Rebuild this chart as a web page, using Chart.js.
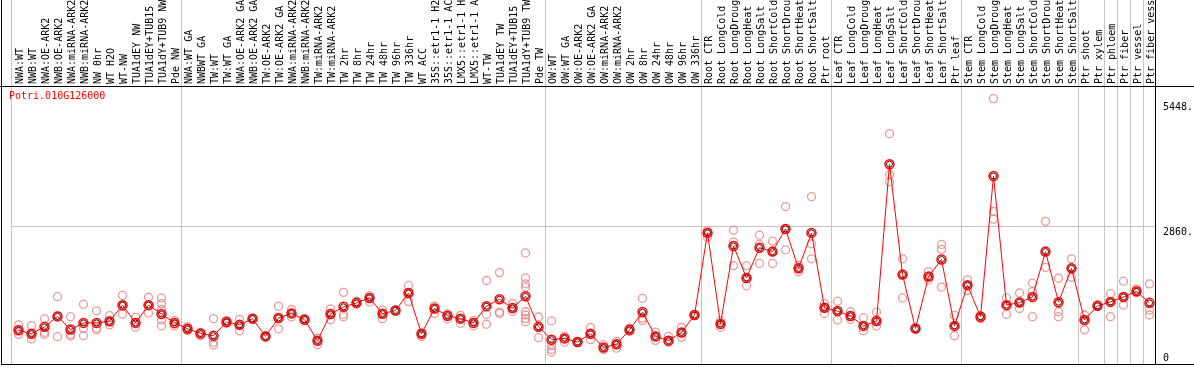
<!DOCTYPE html>
<html>
<head>
<meta charset="utf-8">
<script src="https://cdn.jsdelivr.net/npm/chart.js@4.4.1/dist/chart.umd.min.js"></script>
<style>
  html, body { margin: 0; padding: 0; background: #fff; }
  canvas { display: block; }
</style>
</head>
<body>
<canvas id="expr" width="1194" height="370"></canvas>
<script>
const geneName = "Potri.010G126000";

const labels = [
  "NWA:WT", "NWB:WT", "NWA:OE-ARK2", "NWB:OE-ARK2", "NWA:miRNA-ARK2", "NWB:miRNA-ARK2", "NW 0hr", "WT H2O",
  "WT-NW", "TUA1dEY NW", "TUA1dEY+TUB15 NW", "TUA1dY+TUB9 NW", "Pde NW",
  "NWA:WT GA", "NWBWT GA", "TW:WT", "TW:WT GA", "NWA:OE-ARK2 GA", "NWB:OE-ARK2 GA", "TW:OE-ARK2", "TW:OE-ARK2 GA",
  "NWA:miRNA-ARK2", "NWB:miRNA-ARK2", "TW:miRNA-ARK2", "TW:miRNA-ARK2", "TW 2hr", "TW 8hr", "TW 24hr", "TW 48hr",
  "TW 96hr", "TW 336hr", "WT ACC", "35S::etr1-1 H2O", "35S::etr1-1 ACC", "LMX5::etr1-1 H2O", "LMX5::etr1-1 ACC",
  "WT-TW", "TUA1dEY TW", "TUA1dEY+TUB15 TW", "TUA1dY+TUB9 TW", "Pde TW",
  "OW:WT", "OW:WT GA", "OW:OE-ARK2", "OW:OE-ARK2 GA", "OW:miRNA-ARK2", "OW:miRNA-ARK2", "OW 2hr", "OW 8hr",
  "OW 24hr", "OW 48hr", "OW 96hr", "OW 336hr",
  "Root CTR", "Root LongCold", "Root LongDrought", "Root LongHeat", "Root LongSalt", "Root ShortCold",
  "Root ShortDrought", "Root ShortHeat", "Root ShortSalt", "Ptr root",
  "Leaf CTR", "Leaf LongCold", "Leaf LongDrought", "Leaf LongHeat", "Leaf LongSalt", "Leaf ShortCold",
  "Leaf ShortDrought", "Leaf ShortHeat", "Leaf ShortSalt", "Ptr leaf",
  "Stem CTR", "Stem LongCold", "Stem LongDrought", "Stem LongHeat", "Stem LongSalt", "Stem ShortCold",
  "Stem ShortDrought", "Stem ShortHeat", "Stem ShortSalt",
  "Ptr shoot", "Ptr xylem", "Ptr phloem", "Ptr fiber", "Ptr vessel", "Ptr fiber vessel"
];

// index where each new sample group starts (gray separators)
const groupStarts = [0, 13, 41, 53, 63, 73, 82, 84, 85, 86, 87];

// mean expression per sample
const means = [
  700, 627, 770, 987, 715, 852, 852, 885, 1220, 852, 1220, 1036, 852,
  729, 633, 586, 872, 811, 940, 572, 954, 1049, 919, 484, 1036, 1185, 1267, 1369, 1042, 1110, 1471, 627,
  1150, 1001, 940, 852, 1199, 1342, 1158, 1403, 770,
  504, 531, 456, 627, 341, 409, 709, 1076, 572, 484, 654, 1015,
  2717, 831, 2445, 1784, 2411, 2329, 2799, 1982, 2717, 1165,
  1097, 995, 790, 892, 4141, 1853, 735, 1812, 2166, 790,
  1634, 981, 3896, 1220, 1273, 1389, 2329, 1281, 1982,
  913, 1205, 1287, 1389, 1506, 1267
];

// individual replicates per sample
const replicates = [
  [811, 700, 613], [797, 627, 517], [934, 654, 613], [1395, 1000, 566], [981, 613, 579],
  [1240, 735, 586], [1103, 742, 709], [1001, 811, 885], [1424, 1036, 1220], [966, 762, 852],
  [1383, 1056, 1220], [1369, 1252, 1130, 913, 790], [899, 831, 790],
  [776, 695, 729], [654, 586, 633], [940, 449, 394], [899, 844, 872], [926, 688, 811],
  [950, 930, 940], [580, 565, 572], [1199, 729, 954], [1130, 974, 1049], [946, 899, 919],
  [537, 402, 484], [1144, 919, 1036], [1485, 1028, 981], [1301, 1267, 1240], [1416, 1287, 1369],
  [1117, 940, 1042], [1110, 1120, 1100], [1628, 1293, 1471], [640, 572, 627], [1199, 1049, 1150],
  [1042, 934, 1001], [1008, 844, 940], [899, 790, 852], [1730, 1028, 824], [1894, 1076, 1049],
  [1252, 1090, 1158], [2302, 1784, 1661, 1594, 1083, 1015, 946, 878], [974, 545, 770],
  [892, 382, 300, 245], [572, 449, 531], [463, 456, 450], [756, 504, 627], [402, 300, 341],
  [470, 327, 409], [742, 674, 709], [1362, 946, 899], [661, 490, 572], [572, 449, 484],
  [756, 552, 654], [1015, 1020, 1010],
  [2764, 2629, 2717], [892, 762, 831], [2772, 2527, 2037], [2037, 1620, 1784], [2670, 2478, 2084],
  [2547, 2084, 2329], [3263, 2364, 2799], [1914, 1982, 2050], [3467, 2492, 2180], [1252, 1049, 1165],
  [1301, 913, 1097], [1083, 926, 995], [960, 688, 790], [1076, 790, 892], [4774, 3923, 3773],
  [2180, 1369, 1853], [735, 740, 730], [1914, 1743, 1812], [2478, 2376, 1594], [1008, 586, 790],
  [1743, 1526, 1634], [981, 940, 1000], [5500, 3161, 3003], [1369, 1028, 1220], [1471, 1150, 1273],
  [1675, 1498, 981], [2956, 2002, 2329], [1777, 1083, 981], [2180, 1798, 1982],
  [1015, 709, 913], [1220, 1205, 1190], [1457, 981, 1287], [1716, 1220, 1389], [1559, 1506, 1480],
  [1661, 1117, 1015]
];

const yTicks = [0, 2860, 5448];
const yMax = 5720;

const monoFont = { family: "DejaVu Sans Mono", size: 10 };

const repPoints = [];
replicates.forEach((reps, i) => reps.forEach(v => repPoints.push({ x: i, y: v })));

// frame, separators and gene name
const framePlugin = {
  id: "frame",
  beforeDraw(chart) {
    const { ctx, chartArea: a, scales: { x } } = chart;
    ctx.save();
    ctx.strokeStyle = "#c4c4c4";
    ctx.lineWidth = 1;
    ctx.beginPath();
    groupStarts.forEach(k => {
      const px = k === 0 ? a.left - 1 : (x.getPixelForValue(k - 1) + x.getPixelForValue(k)) / 2;
      const xx = Math.round(px) + 0.5;
      ctx.moveTo(xx, 0);
      ctx.lineTo(xx, a.bottom);
    });
    ctx.stroke();
    ctx.restore();
  },
  afterDraw(chart) {
    const { ctx, chartArea: a, width } = chart;
    ctx.save();
    ctx.strokeStyle = "#000";
    ctx.lineWidth = 1;
    ctx.beginPath();
    ctx.moveTo(1.5, 0); ctx.lineTo(1.5, a.bottom + 1);
    ctx.moveTo(Math.round(a.right) - 0.5, 0); ctx.lineTo(Math.round(a.right) - 0.5, a.bottom + 1);
    ctx.moveTo(0, a.top - 1.5); ctx.lineTo(width, a.top - 1.5);
    ctx.moveTo(1, a.bottom + 0.5); ctx.lineTo(width, a.bottom + 0.5);
    ctx.stroke();
    ctx.fillStyle = "#ff0000";
    ctx.font = "10px 'DejaVu Sans Mono'";
    ctx.textBaseline = "middle";
    ctx.fillText(geneName, 9, a.top + 8);
    ctx.restore();
  }
};

const ctx = document.getElementById("expr").getContext("2d");
new Chart(ctx, {
  type: "line",
  data: {
    labels: labels,
    datasets: [
      {
        data: means,
        xAxisID: "x",
        borderColor: "#ff0000",
        borderWidth: 1,
        pointRadius: 4.5,
        pointBorderColor: "#ff0000",
        pointBorderWidth: 1.5,
        pointBackgroundColor: "rgba(0,0,0,0)",
        tension: 0,
        order: 1
      },
      {
        data: means,
        xAxisID: "x",
        showLine: false,
        pointRadius: 3,
        pointBorderColor: "#500000",
        pointBorderWidth: 1,
        pointBackgroundColor: "rgba(0,0,0,0)",
        order: 0
      },
      {
        type: "scatter",
        data: repPoints,
        xAxisID: "xr",
        showLine: false,
        pointRadius: 4,
        pointBorderColor: "rgba(228,130,130,0.8)",
        pointBorderWidth: 1.3,
        pointBackgroundColor: "rgba(0,0,0,0)",
        order: 2
      }
    ]
  },
  options: {
    responsive: false,
    animation: false,
    events: [],
    layout: { padding: { left: 12, right: 0, top: 0, bottom: 2 } },
    plugins: { legend: { display: false }, tooltip: { enabled: false } },
    scales: {
      x: {
        position: "top",
        offset: true,
        grid: { display: false, drawTicks: false },
        border: { display: false },
        ticks: {
          autoSkip: false,
          minRotation: 90,
          maxRotation: 90,
          padding: 4,
          labelOffset: 14,
          color: "#000",
          font: monoFont
        },
        afterFit: (scale) => {
          scale.height = 88;
          scale.paddingLeft = 0;
          scale.paddingRight = 0;
        }
      },
      xr: {
        type: "linear",
        display: false,
        min: -0.5,
        max: labels.length - 0.5
      },
      y: {
        position: "right",
        min: 0,
        max: yMax,
        afterBuildTicks: (scale) => { scale.ticks = yTicks.map(v => ({ value: v })); },
        grid: {
          drawTicks: false,
          color: (c) => (c.tick && c.tick.value === 2860 ? "#c4c4c4" : "rgba(0,0,0,0)")
        },
        border: { display: false },
        ticks: {
          padding: 7,
          color: "#000",
          font: monoFont,
          callback: (v) => (v === 0 ? ["0", ""] : ["", v + "."])
        },
        afterFit: (scale) => {
          scale.width = 38;
          scale.paddingTop = 0;
          scale.paddingBottom = 0;
        }
      }
    }
  },
  plugins: [framePlugin]
});
</script>
</body>
</html>
